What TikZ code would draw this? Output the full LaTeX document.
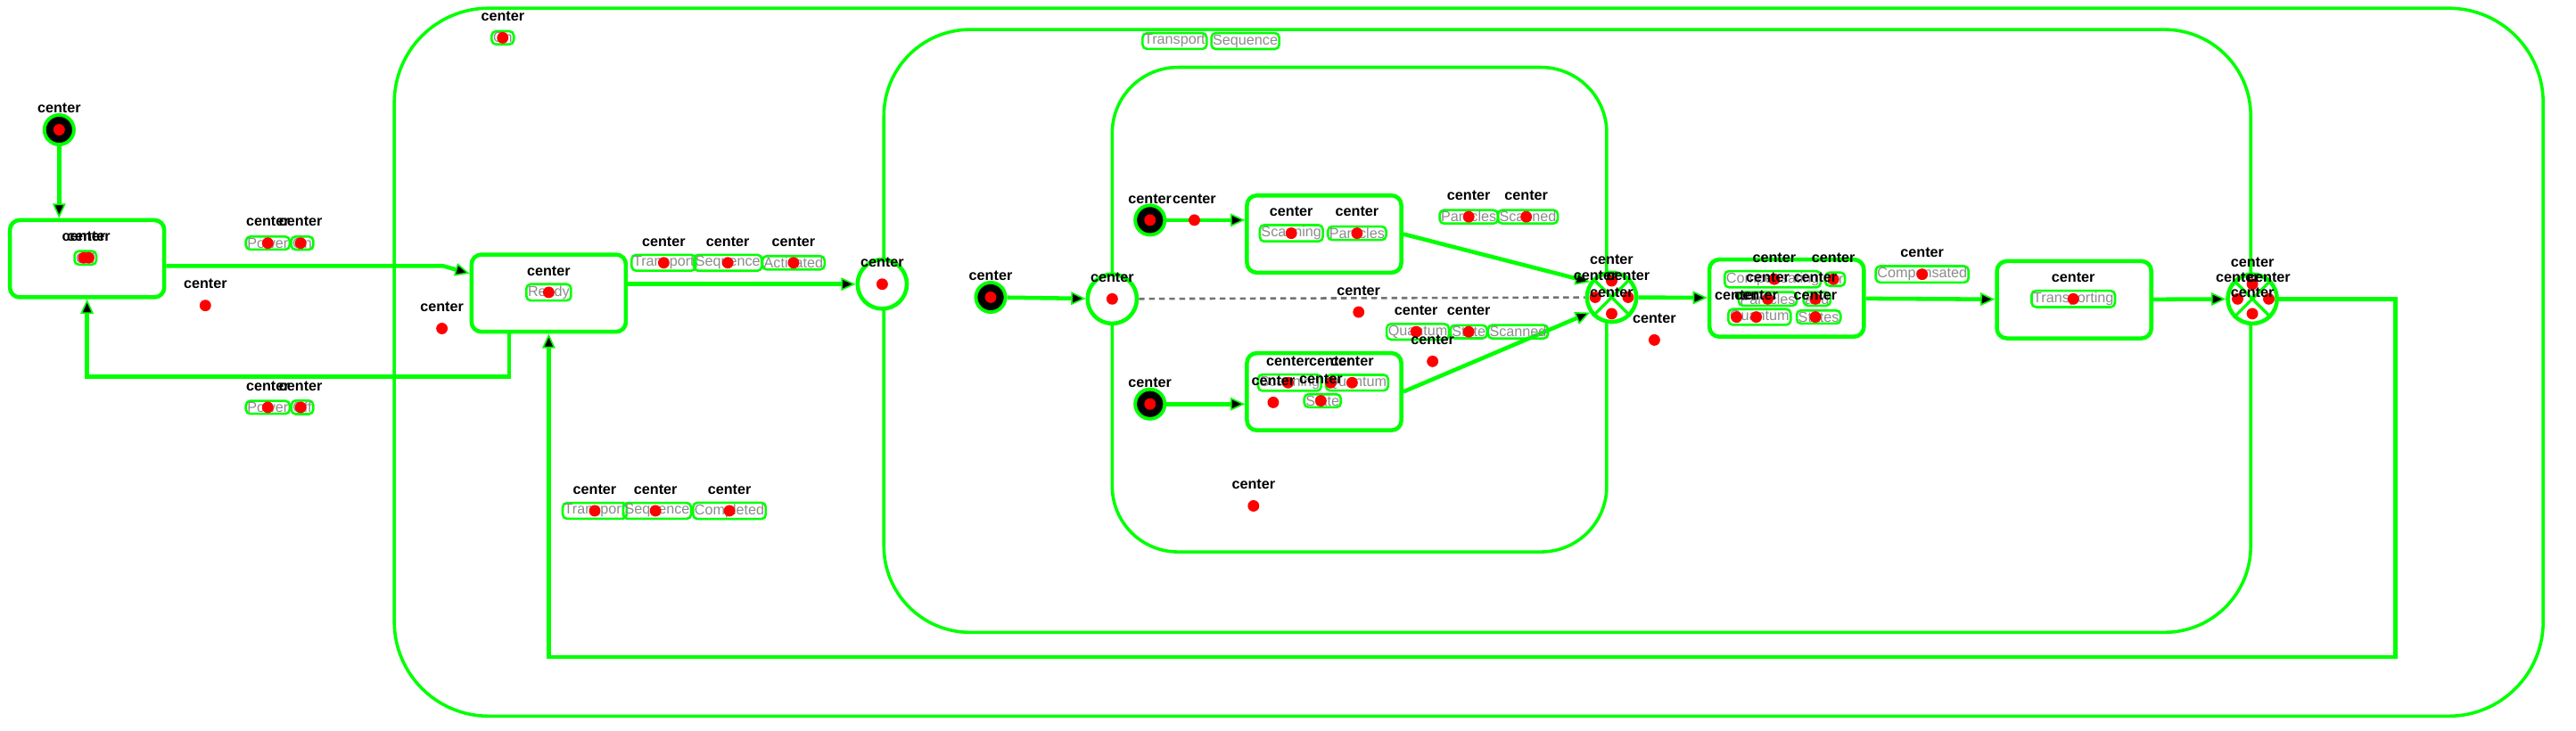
\documentclass[tikz,border=0pt]{standalone}
\usepackage{fontspec}
\setmainfont{Liberation Sans}
\usetikzlibrary{arrows.meta,calc}
\definecolor{hl}{RGB}{0,255,0}
\definecolor{dotred}{RGB}{255,0,0}
\tikzset{
  region/.style={draw=hl, line width=1.1pt},
  stbox/.style={draw=hl, line width=1.4pt, rounded corners=0.12cm, minimum width=1.88cm, minimum height=0.94cm, inner sep=0pt},
  initst/.style={circle, draw=hl, fill=black, line width=1.2pt, minimum size=0.36cm, inner sep=0pt},
  pseudo/.style={circle, draw=hl, fill=white, line width=1.4pt, minimum size=0.6cm, inner sep=0pt},
  tr/.style={draw=hl, line width=1.4pt, -{Triangle[length=5pt, width=4.5pt, fill=black, line width=0.5pt]}},
  word/.style={text=black!45, draw=hl, line width=0.8pt, rounded corners=1.5pt, inner sep=0.5pt, font=\fontsize{5}{6}\selectfont},
  ctrtag/.style={font=\fontsize{5}{6}\selectfont\bfseries, inner sep=0pt}
}

\begin{document}
\begin{tikzpicture}[x=0.02cm, y=-0.02cm]
\useasboundingbox (0,0) rectangle (1568,445);
% regions
\draw[region, rounded corners=1.15cm] (240,5) rectangle (1548,436);
\draw[region, rounded corners=1.05cm] (538,18) rectangle (1370,385);
\draw[region, rounded corners=0.8cm] (677,41) rectangle (978,336);

% states
\node[initst] (init1) at (36,79) {};
\node[stbox] (off) at (53,157.5) {};
\node[stbox] (ready) at (334,178.5) {};
\node[pseudo] (entry1) at (537,173) {};
\node[initst] (init2) at (603,181) {};
\node[pseudo] (entry2) at (677,182) {};
\node[initst] (init3) at (700,134) {};
\node[initst] (init4) at (700,246) {};
\node[stbox] (scanpart) at (806,142.5) {};
\node[stbox] (scanqs) at (806,238.5) {};
\node[pseudo] (exit1) at (981,181) {};
\node[stbox] (comp) at (1087.5,181.5) {};
\node[stbox] (transp) at (1262.5,182.5) {};
\node[pseudo] (exit2) at (1371,182) {};
\coordinate (bendon) at (270,162);
\coordinate (loopr) at (1458,400);
\draw[hl, line width=1pt] (exit1.45) -- (exit1.225) (exit1.135) -- (exit1.315);
\draw[hl, line width=1pt] (exit2.45) -- (exit2.225) (exit2.135) -- (exit2.315);

% transitions
\draw[tr] (init1) -- (init1 |- off.north);
\draw[tr] ($(off.east)+(0,4.5)$) -- (bendon) -- ($(ready.west)+(0,-12)$);
\draw[tr] ($(ready.south)+(-24,0)$) -- ++(0,26) -| (off.south);
\draw[tr] (ready.east |- entry1) -- (entry1);
\draw[tr] (init2) -- (entry2);
\draw[black!55, line width=0.8pt, dash pattern=on 2pt off 1.5pt] (entry2) -- (exit1);
\draw[tr] (init3) -- (init3 -| scanpart.west);
\draw[tr] (init4) -- (init4 -| scanqs.west);
\draw[tr] (scanpart.east) -- (exit1.145);
\draw[tr] (scanqs.east) -- (exit1.215);
\draw[tr] (exit1) -- (comp);
\draw[tr] (comp) -- (transp);
\draw[tr] (transp) -- (exit2);
\draw[tr] (exit2.east) -| (loopr) -| (ready.south);

% texts
\node[word] (won) at (306,23) {On};
\node[word] (woff) at (52,157) {Off};
\node[word] (wpon1) at (163,148) {Power};
\node[word] (wpon2) at (184,148) {On};
\node[word] (wpoff1) at (163,248) {Power};
\node[word] (wpoff2) at (184,248) {Off};
\node[word] (wready) at (334,178) {Ready};
\node[word] (wtsa1) at (404,160) {Transport};
\node[word] (wtsa2) at (443,160) {Sequence};
\node[word] (wtsa3) at (483,160) {Activated};
\node[word] (wtsc1) at (362,311) {Transport};
\node[word] (wtsc2) at (400,311) {Sequence};
\node[word] (wtsc3) at (444,311) {Completed};
\node[word] (wts1) at (715,25) {Transport};
\node[word] (wts2) at (758,25) {Sequence};
\node[word] (wsp1) at (786,142) {Scanning};
\node[word] (wsp2) at (826,142) {Particles};
\node[word] (wps1) at (894,132) {Particles};
\node[word] (wps2) at (930,132) {Scanned};
\node[word] (wsq1) at (785,233) {Scanning};
\node[word] (wsq2) at (826,233) {Quantum};
\node[word] (wsq3) at (805,244) {State};
\node[word] (wqs1) at (863,202) {Quantum};
\node[word] (wqs2) at (894,202) {State};
\node[word] (wqs3) at (924,202) {Scanned};
\node[word] (wcp1) at (1079,170) {Compensating};
\node[word] (wcp2) at (1117,170) {for};
\node[word] (wcp3) at (1076,182) {Particles};
\node[word] (wcp4) at (1106,182) {and};
\node[word] (wcp5) at (1071,193) {Quantum};
\node[word] (wcp6) at (1107,193) {States};
\node[word] (wcd) at (1170,167) {Compensated};
\node[word] (wtr) at (1262,182) {Transporting};

% center marks
\foreach \p [count=\k] in {{36,79},{51,157},{54,157},{306,23},{163,148},{183,148},{125,186},
  {163,248},{183,248},{269,200},{334,178},{404,160},{443,160},{483,160},{537,173},
  {362,311},{399,311},{444,311},{603,181},{677,182},{700,134},{727,134},{786,142},{826,142},
  {894,132},{929,132},{827,190},{862,202},{894,202},{872,220},{700,246},{784,233},{810,233},
  {823,233},{775,245},{804,244},{763,308},{981,171},{971,181},{991,181},{981,191},{1007,207},
  {1080,170},{1116,170},{1076,182},{1105,182},{1057,193},{1069,193},{1105,193},{1170,167},
  {1262,182},{1371,173},{1362,182},{1381,182},{1371,191}} {
  \fill[dotred] (\p) circle (0.07cm);
  \node[ctrtag] (ctr\k) at ($(\p)+(0,-13)$) {center};
}
\end{tikzpicture}
\end{document}
